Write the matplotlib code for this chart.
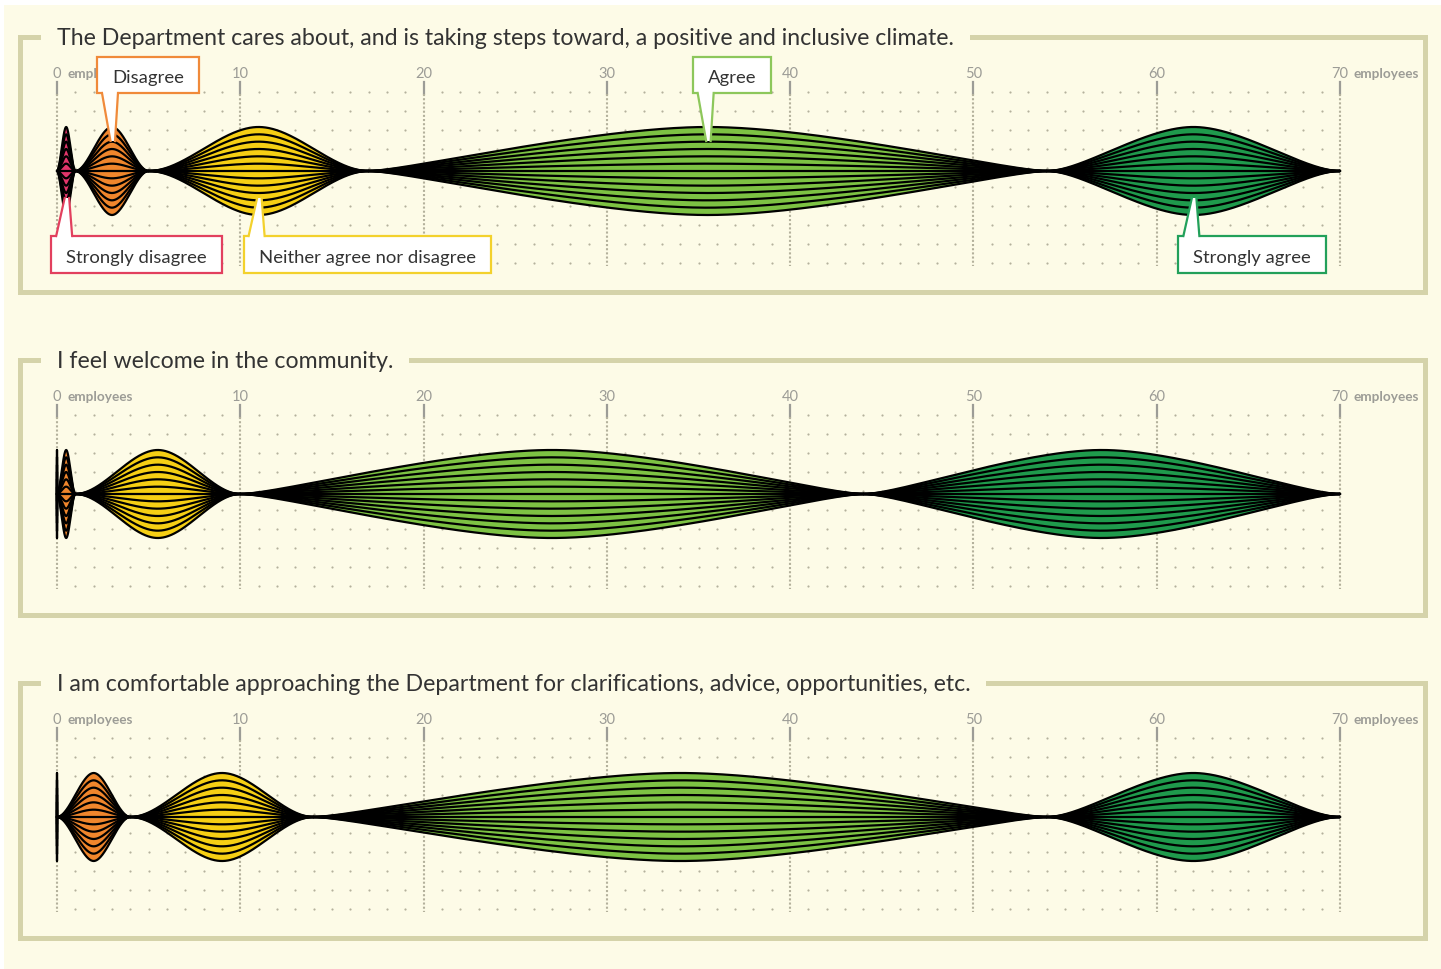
import numpy as np
import matplotlib
matplotlib.use("Agg")
import matplotlib.pyplot as plt
from matplotlib.patches import Rectangle, Polygon

plt.rcParams["font.family"] = ["Lato", "DejaVu Sans"]

# ---- data ----
questions = [
    "The Department cares about, and is taking steps toward, a positive and inclusive climate.",
    "I feel welcome in the community.",
    "I am comfortable approaching the Department for clarifications, advice, opportunities, etc.",
]
categories = ["Strongly disagree", "Disagree", "Neither agree nor disagree",
              "Agree", "Strongly agree"]
counts_q1 = [1, 4, 12, 37, 16]
counts_q2 = [0, 1, 9, 34, 26]
counts_q3 = [0, 4, 10, 40, 16]
all_counts = [counts_q1, counts_q2, counts_q3]
x_ticks = [0, 10, 20, 30, 40, 50, 60, 70]
callout_side = ["below", "above", "below", "above", "below"]   # only on first panel

# ---- style ----
W, H, DPI = 1441, 970, 100
bg = "#fdfbe7"
frame_c = "#d5d3aa"
grid_c = "#b4b19c"
tick_c = "#9c9c96"
text_c = "#333333"
cat_colors = ["#e2356a", "#f0862c", "#f6cf14", "#7dc243", "#1f9a4c"]
box_colors = ["#e2405e", "#f08a3a", "#f3d12c", "#8dc75b", "#22a05a"]

X0 = 57                       # pixel of 0 employees
PPU = (1340 - 57) / 70.0      # pixels per employee
BAND = 323                    # pixel height of one panel band
CENTER = 172                  # lens centre below band top
HALF = 44                     # lens half height (px)
N_STRANDS = 6
TIP_PX = 36                   # max bezier handle length at the lens tips (px)


def px(n):
    return n / PPU


def lens_shape(start, width, n=140):
    """Symmetric lens profile: cubic bezier from the tip up to the peak."""
    half = width / 2
    half_px = max(half * PPU, 1e-6)
    alpha = min(1 / 3, TIP_PX / half_px)
    s = np.linspace(0, 1, n)
    bx = 3 * (1 - s) ** 2 * s * alpha + 3 * (1 - s) * s ** 2 * (2 / 3) + s ** 3
    by = 3 * (1 - s) * s ** 2 + s ** 3
    x = np.concatenate([start + half * bx, (start + width - half * bx)[::-1][1:]])
    y = np.concatenate([by, by[::-1][1:]])
    return x, y


fig = plt.figure(figsize=(W / DPI, H / DPI), dpi=DPI, facecolor="white")
fig.add_artist(Rectangle((4 / W, 0), 1, 1 - 6 / H, transform=fig.transFigure,
                         fc=bg, ec="none", zorder=-10))

axes = []
for k, (title, counts) in enumerate(zip(questions, all_counts)):
    ax = fig.add_axes([0, 1 - BAND * (k + 1) / H, 1, BAND / H])
    ax.set_xlim(-px(X0), px(W - X0))
    ax.set_ylim(-(BAND - CENTER), CENTER)
    ax.axis("off")
    axes.append(ax)

    # frame + title breaking the top edge
    ax.add_patch(Rectangle((px(20 - X0), -121), px(1425 - 20), 255, fill=False,
                           ec=frame_c, lw=3.6, clip_on=False, zorder=1))
    ax.text(0, 127, title, fontsize=16.7, color=text_c, ha="left", va="baseline",
            zorder=2, bbox=dict(boxstyle="square,pad=0.68", fc=bg, ec="none"))

    # axis ticks / grid
    for v in x_ticks:
        ax.text(v, 94, str(v), ha="center", va="baseline", fontsize=10.5,
                color=tick_c, zorder=3)
        ax.plot([v, v], [89, 77], color=tick_c, lw=1.6, zorder=1.5)
        ax.plot([v, v], [77, -95], color=grid_c, lw=1.5, ls=(0, (1, 1)), zorder=1.5)
    ax.text(0 + px(10), 94, "employees", ha="left", va="baseline", fontsize=9.8,
            fontweight="bold", color=tick_c, zorder=3)
    ax.text(70 + px(13), 94, "employees", ha="left", va="baseline", fontsize=9.8,
            fontweight="bold", color=tick_c, zorder=3)

    rows = 3.3 + 19 * np.arange(-5, 5)
    minor = [v for v in range(1, 70) if v % 10 != 0]
    mx, my = np.meshgrid(minor, rows)
    ax.scatter(mx.ravel(), my.ravel(), s=2.5, color=grid_c, lw=0, zorder=1.5)

    # lenses
    starts = np.concatenate([[0], np.cumsum(counts)[:-1]])
    for start, c, col in zip(starts, counts, cat_colors):
        x, prof = lens_shape(start, c)
        env = HALF * prof
        ax.add_patch(Polygon(np.column_stack([np.concatenate([x, x[::-1]]),
                                              np.concatenate([env, -env[::-1]])]),
                             closed=True, fc=col, ec="none", zorder=3))
        for j in range(-N_STRANDS, N_STRANDS + 1):
            ax.plot(x, env * j / N_STRANDS, color="black", lw=1.6, zorder=4,
                    solid_capstyle="round")

# ---- callouts on the first panel ----
ax = axes[0]
renderer = fig.canvas.get_renderer()
counts = all_counts[0]
starts = np.concatenate([[0], np.cumsum(counts)[:-1]])
for name, start, c, side, bcol in zip(categories, starts, counts, callout_side, box_colors):
    cx = start + c / 2
    if side == "above":
        b_bot, b_top, edge, tip = 78, 114, 78, 30
    else:
        b_bot, b_top, edge, tip = -102, -65, -65, -27
    txt = ax.text(cx, b_bot + 11, name, fontsize=13.3, color=text_c, ha="left",
                  va="baseline", zorder=9)
    bb = txt.get_window_extent(renderer=renderer)
    left = cx - px(15)
    right = cx + px(bb.width + 15)
    ax.add_patch(Rectangle((left, b_bot), right - left, b_top - b_bot, fc="white",
                           ec=bcol, lw=1.6, zorder=6, clip_on=False))
    inner = edge + (3 if side == "above" else -3)
    bl, br = cx - px(10), cx + px(6)
    tl, tr = cx - px(1.5), cx + px(3)
    ax.add_patch(Polygon([(bl, inner), (br, inner), (tr, tip), (tl, tip)],
                         closed=True, fc="white", ec="none", zorder=7))
    ax.plot([bl, tl], [edge, tip], color=bcol, lw=1.6, zorder=8)
    ax.plot([br, tr], [edge, tip], color=bcol, lw=1.6, zorder=8)

fig.savefig("out.png", dpi=DPI, facecolor=fig.get_facecolor())
